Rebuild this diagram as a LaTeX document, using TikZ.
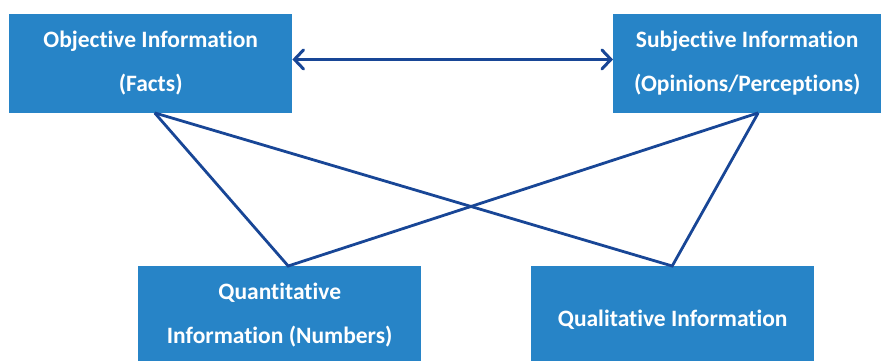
\documentclass[tikz,border=0pt]{standalone}
\usepackage{fontspec}
\setmainfont[Ligatures=NoCommon]{Carlito}
\usetikzlibrary{arrows.meta}
\definecolor{boxblue}{RGB}{39,132,199}
\definecolor{linkblue}{RGB}{24,70,150}
\begin{document}
\begin{tikzpicture}[x=1pt,y=-1pt,
  infobox/.style={fill=boxblue,text=white,inner sep=0pt,anchor=north west,
    align=center,font=\bfseries\fontsize{23.5}{44}\selectfont},
  link/.style={draw=linkblue,line width=2.8pt,line join=miter}]
\useasboundingbox (0,0) rectangle (883,360);
% boxes: x0, y0 as the upper-left corner
\node[infobox,minimum width=283pt,minimum height=98.5pt] (obj) at (9,14)
  {Objective Information\\(Facts)};
\node[infobox,minimum width=268pt,minimum height=98.5pt] (subj) at (613,14)
  {Subjective Information\\(Opinions/Perceptions)};
\node[infobox,minimum width=283pt,minimum height=98pt] (quan) at (138,266)
  {Quantitative\\Information (Numbers)};
\node[infobox,minimum width=283pt,minimum height=108pt] (qual) at (531,266)
  {Qualitative Information};
% attachment points on the box edges
\coordinate (objP) at ([xshift=4pt]obj.south);
\coordinate (subjP) at ([xshift=11pt]subj.south);
\coordinate (quanP) at ([xshift=8.5pt]quan.north);
\coordinate (qualP) at ([xshift=-0.5pt]qual.north);
% cross links
\draw[link] (objP) -- (quanP) -- (subjP);
\draw[link] (objP) -- (qualP) -- (subjP);
% two-way arrow between the upper boxes
\draw[draw=linkblue,line width=3pt,
  {Straight Barb[length=9pt,width=19pt,line cap=round]}-{Straight Barb[length=9pt,width=19pt,line cap=round]}]
  ([yshift=4pt]obj.east) -- ([yshift=4pt]subj.west);
\end{tikzpicture}
\end{document}
